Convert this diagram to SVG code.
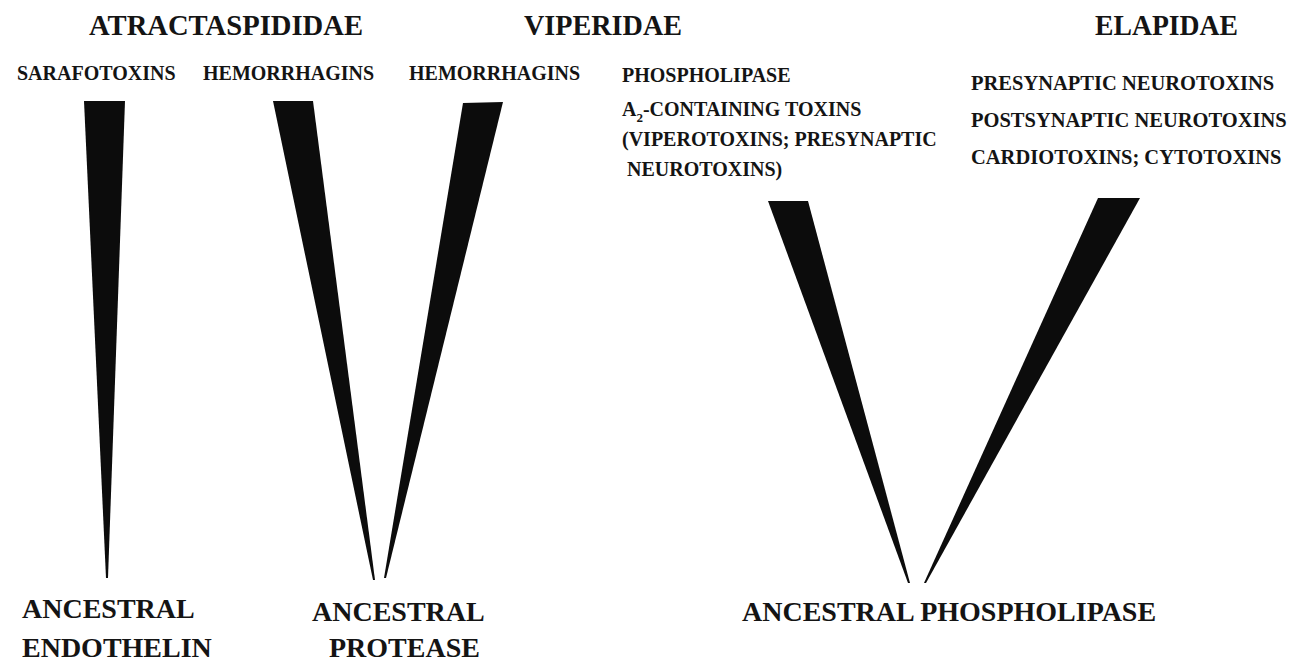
<svg xmlns="http://www.w3.org/2000/svg" width="1304" height="663" viewBox="0 0 1304 663">
<style>
text{font-family:"Liberation Serif","Times New Roman",serif;font-weight:bold;fill:#141414}
.fam{font-size:30px}
.lab{font-size:20px}
.elab{font-size:20.5px}
.anc{font-size:28px}
.wedge{fill:#0c0c0c}
</style>
<rect width="1304" height="663" fill="#ffffff"/>
<g id="family-atractaspididae"><text class="fam" x="89" y="35" textLength="274" lengthAdjust="spacingAndGlyphs">ATRACTASPIDIDAE</text></g>
<g id="family-viperidae"><text class="fam" x="524" y="35" textLength="158" lengthAdjust="spacingAndGlyphs">VIPERIDAE</text></g>
<g id="family-elapidae"><text class="fam" x="1095" y="35" textLength="143" lengthAdjust="spacingAndGlyphs">ELAPIDAE</text></g>
<g id="sarafotoxins"><text class="lab" x="17" y="80">SARAFOTOXINS</text></g>
<g id="hemorrhagins-1"><text class="lab" x="203" y="80">HEMORRHAGINS</text></g>
<g id="hemorrhagins-2"><text class="lab" x="409" y="80">HEMORRHAGINS</text></g>
<g id="pla2-toxins">
<text class="lab" x="622" y="82">PHOSPHOLIPASE</text>
<text class="lab" x="622" y="116">A<tspan font-size="13" dy="6">2</tspan><tspan dy="-6">-CONTAINING TOXINS</tspan></text>
<text class="lab" x="622" y="146">(VIPEROTOXINS; PRESYNAPTIC</text>
<text class="lab" x="627" y="176">NEUROTOXINS)</text>
</g>
<g id="elapid-toxins">
<text class="elab" x="971" y="90">PRESYNAPTIC NEUROTOXINS</text>
<text class="elab" x="971" y="127">POSTSYNAPTIC NEUROTOXINS</text>
<text class="elab" x="971" y="164">CARDIOTOXINS; CYTOTOXINS</text>
</g>
<g id="ancestral-endothelin">
<text class="anc" x="22" y="618">ANCESTRAL</text>
<text class="anc" x="22" y="657">ENDOTHELIN</text>
</g>
<g id="ancestral-protease">
<text class="anc" x="312" y="621">ANCESTRAL</text>
<text class="anc" x="329" y="657">PROTEASE</text>
</g>
<g id="ancestral-phospholipase">
<text class="anc" x="742" y="621">ANCESTRAL PHOSPHOLIPASE</text>
</g>
<g id="connectors">
<polygon class="wedge" points="84,101 125,101 108,578 106,578"/>
<polygon class="wedge" points="273,101 313,101 375,580 373,580"/>
<polygon class="wedge" points="463,103 503,102 386,578 384,578"/>
<polygon class="wedge" points="768,201 808,201 910,583 908,583"/>
<polygon class="wedge" points="1098,198 1140,198 926,583 924,583"/>
</g>
</svg>
